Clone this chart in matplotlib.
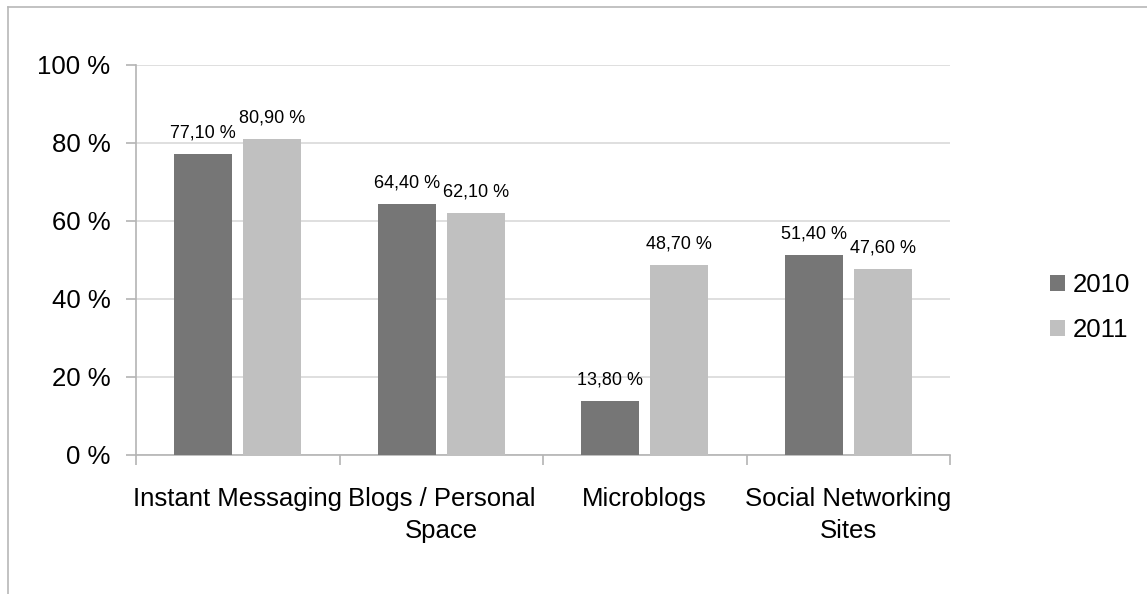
import numpy as np
import matplotlib.pyplot as plt
from matplotlib.lines import Line2D

plt.rcParams['font.family'] = ['Liberation Sans', 'DejaVu Sans']

categories = ['Instant Messaging', 'Blogs / Personal\nSpace', 'Microblogs',
              'Social Networking\nSites']
years = ['2010', '2011']
values_2010 = [77.1, 64.4, 13.8, 51.4]
values_2011 = [80.9, 62.1, 48.7, 47.6]
y_ticks = [0, 20, 40, 60, 80, 100]

colors = ['#767676', '#c0c0c0']
axis_color = '#b4b4b4'
grid_color = '#d9d9d9'

fig = plt.figure(figsize=(11.47, 5.94), dpi=100)
W, H = 1147, 594
ax = fig.add_axes([136 / W, 1 - 455 / H, (950 - 136) / W, (455 - 65) / H])

# рамка области диаграммы (видны только верхний и левый края)
fig.add_artist(Line2D([8 / W, 8 / W], [0, 1 - 7 / H], color='#b8b8b8', lw=1.2,
                      transform=fig.transFigure))
fig.add_artist(Line2D([8 / W, 1], [1 - 7 / H, 1 - 7 / H], color='#b8b8b8', lw=1.2,
                      transform=fig.transFigure))

x = np.arange(len(categories))
width = 0.285
gap = 0.055
series = [values_2010, values_2011]
for i, (vals, year) in enumerate(zip(series, years)):
    offset = (i - 0.5) * (width + gap)
    bars = ax.bar(x + offset, vals, width, color=colors[i], label=year, zorder=3)
    for bar, v in zip(bars, vals):
        ax.annotate(f'{v:.2f} %'.replace('.', ','),
                    (bar.get_x() + bar.get_width() / 2, bar.get_height()),
                    xytext=(0, 9), textcoords='offset points',
                    ha='center', va='bottom', fontsize=13, color='#000000')

ax.set_xlim(-0.5, len(categories) - 0.5)
ax.set_ylim(0, 100)
ax.set_yticks(y_ticks)
ax.set_yticklabels([f'{t} %' for t in y_ticks], fontsize=18.5)
ax.yaxis.grid(True, color=grid_color, lw=1.2, zorder=0)

# подписи категорий по центру групп, засечки на границах
ax.set_xticks(np.arange(len(categories) + 1) - 0.5)
ax.set_xticklabels([])
ax.set_xticks(x, minor=True)
ax.set_xticklabels(categories, minor=True, fontsize=18.5, linespacing=1.45,
                   va='top')
ax.tick_params(axis='x', which='minor', length=0, pad=23)
ax.tick_params(axis='x', which='major', length=7, width=1.2, color=axis_color,
               direction='out')
ax.tick_params(axis='y', length=7, width=1.2, color=axis_color, pad=11.5,
               direction='out')

for side in ['top', 'right']:
    ax.spines[side].set_visible(False)
for side in ['left', 'bottom']:
    ax.spines[side].set_color(axis_color)
    ax.spines[side].set_linewidth(1.2)

leg = ax.legend(loc='center left', bbox_to_anchor=(1.095, 0.378), frameon=False,
                fontsize=18.5, handlelength=0.55, handleheight=0.55,
                handletextpad=0.3, labelspacing=0.8)

fig.savefig('out.png', dpi=100, facecolor='white')
